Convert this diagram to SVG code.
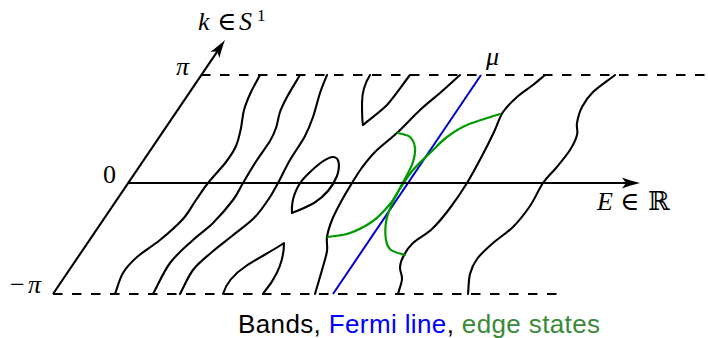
<svg xmlns="http://www.w3.org/2000/svg" width="708" height="338" viewBox="0 0 708 338">
<style>
.band{fill:none;stroke:#000;stroke-width:2.1;stroke-linejoin:round;stroke-linecap:round}
.axis{fill:none;stroke:#000;stroke-width:2.1}
.dash{fill:none;stroke:#000;stroke-width:2.1;stroke-dasharray:9.5 9.5}
.edge{fill:none;stroke:#009900;stroke-width:2.2;stroke-linecap:round}
.fermi{fill:none;stroke:#0000cc;stroke-width:2}
.m{font-family:"Liberation Serif","DejaVu Serif","DejaVu Sans",serif;font-size:26px;fill:#000}
.i{font-style:italic}
.cap{font-family:"Liberation Sans",Arial,sans-serif;font-size:26px}
</style>
<defs>
<path id="ah" d="M0,0 C-6,-1.5 -13,-3.5 -18,-5.5 L-14,0 L-18,5.5 C-13,3.5 -6,1.5 0,0 Z" fill="#000"/>
</defs>

<g id="frame">
<path class="dash" d="M201,75 H707"/>
<path class="dash" d="M53,294 H560"/>
</g>

<g id="bands">
<path id="band1" class="band" d="M260,75 C257,80.7 253.7,86.2 251,92 S245.7,104 244,110 S242.3,122 241,128 S238.5,140.3 236,146 S230.7,155.8 226,162 S213,176.7 208,183 S200.2,194 196,200 S189,212.3 183,219 S167.7,233.7 160,240 S143.2,251.5 137,257 S126.7,266.8 123,273 S117.7,287 115,294"/>
<path id="band2" class="band" d="M300,75 C295.7,82.3 290.3,90.8 287,97 S281.8,106.8 280,112 S277.7,123.2 276,128 S273.2,135.7 270,141 S261.5,153 257,160 S247,176.3 243,183 S238,193.3 233,200 S219.7,216.3 213,223 S200.2,233.3 193,240 S176.7,254 170,263 S158.7,283.7 153,294"/>
<path id="band3" class="band" d="M327,75 C324.7,81 322.3,86 320,93 S315.5,109.8 313,117 S308.8,128.8 305,136 S294.5,152.2 290,160 S281.7,176.3 278,183 S272,194.2 268,200 S260,212 254,218 S239,230.3 232,236 S218.5,246.3 212,252 S198.3,263 193,270 S184.3,286 180,294"/>
<path id="band4" class="band" d="M223,294 C226,284 234,274 246,266 C258,258 274,250 284,243 C284,255 280,268 274,278 C270,286 265,290 263,294"/>
<path id="band5" class="band" d="M292,213 C291,200 296,186 306,176 C316,166 327,157 333,157 C340,157 340,167 337,176 C333,186 325,196 314,203 C305,208 297,211 292,213 Z"/>
<path id="band6" class="band" d="M370,75 C365,83 362,92 362,103 C362,112 362,120 363,125 C370,119 380,112 387,105 C395,96 403,84 410,75"/>
<path id="band7" class="band" d="M460,75 C453.3,81 446.7,87.2 440,93 S427,103.5 420,110 S405.5,125 398,132 S381.2,145.8 375,152 S364.8,163.8 361,169 S355.2,177.8 352,183 S345.3,193.8 342,200 S334.5,213.8 332,220 S327.8,231.8 327,237 S327.8,245.5 327,251 S324,262.8 322,270 S317.3,286 315,294"/>
<path id="band8" class="band" d="M545,75 C541,78.3 537.7,81.3 533,85 S522,92.5 517,97 S506.8,106.2 503,112 S497.3,125 494,132 S487.5,145.5 483,154 S472.5,174 467,183 S455.8,200.3 450,208 S438.2,223.2 432,229 S417.7,238.7 413,243 S406.2,251 404,255 S400.3,263 400,267 S402.3,274.5 402,279 S399.3,289 398,294"/>
<path id="band9" class="band" d="M615,75 C607.7,80.7 598.5,86.7 593,92 S584.7,101.8 582,107 S577.8,118.3 577,123 S578.2,130.5 577,135 S573.5,144.5 570,150 S560.5,162.5 556,168 S547.3,176.7 543,183 S535,198.7 530,206 S519.2,220.8 513,227 S499,237.7 493,243 S480.8,253.8 477,259 S471.5,268.2 470,274 S468.7,287.3 468,294"/>
</g>

<g id="fermi-line">
<path class="fermi" d="M333,294 L481,75"/>
</g>

<g id="edge-states">
<path id="edge1" class="edge" d="M398,133 C402,134.3 407.2,134.5 410,137 S414.5,143.8 415,148 S414.5,157.2 413,162 S408.2,172.7 406,177 S402.5,183.2 400,188 S393.3,200.3 391,206 S386.8,216.3 386,222 S385.2,235.3 386,240 S387.8,247.5 391,250 S400.3,253.3 405,255"/>
<path id="edge2" class="edge" d="M328,237 C335.3,235.7 342.5,235.7 350,233 S366.3,225.8 373,221 S385.3,209.7 390,204 S397.2,192.7 401,187 S408.2,175.7 413,170 S424.3,158.5 430,153 S440.8,141.7 447,137 S458.2,128.8 467,125 S489,117.7 500,114"/>
</g>

<g id="axes">
<path class="axis" d="M128,183 H630"/>
<use href="#ah" transform="translate(640,183)"/>
<path class="axis" d="M53,294 L219.4,48.3"/>
<use href="#ah" transform="translate(225,40) rotate(-55.9)"/>
</g>

<g id="labels">
<text class="m" y="30"><tspan class="i" x="198">k</tspan><tspan x="217">∈</tspan><tspan class="i" x="239">S</tspan><tspan x="257" y="21" font-size="17">1</tspan></text>
<text class="m i" x="176" y="75">π</text>
<text class="m" x="103" y="183">0</text>
<text class="m" y="293"><tspan x="10">−</tspan><tspan class="i" x="28">π</tspan></text>
<text class="m i" x="486" y="65">μ</text>
<text class="m" y="210"><tspan class="i" x="597">E</tspan><tspan x="620">∈</tspan><tspan x="648">ℝ</tspan></text>
</g>

<g id="caption">
<text class="cap" x="238" y="333" textLength="362"><tspan fill="#000">Bands, </tspan><tspan fill="#0000ff">Fermi line</tspan><tspan fill="#000">, </tspan><tspan fill="#3a8a3a">edge states</tspan></text>
</g>
</svg>
